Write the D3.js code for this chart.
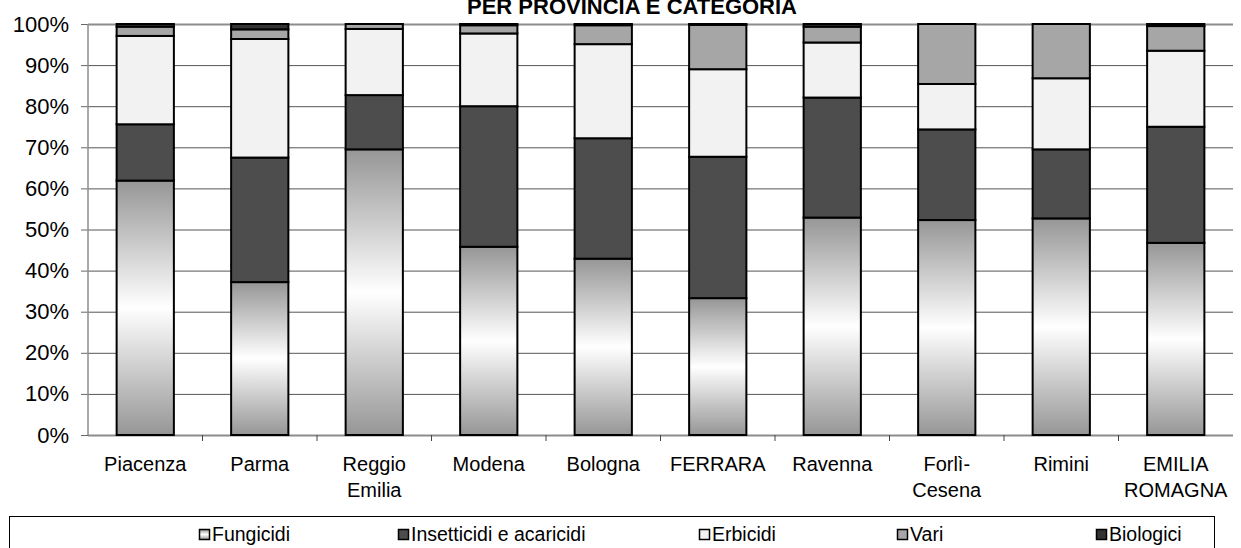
<!DOCTYPE html>
<html>
<head>
<meta charset="utf-8">
<script src="https://cdn.jsdelivr.net/npm/d3@7"></script>
<style>
  body { margin: 0; background: #fff; }
  svg { display: block; font-family: 'Liberation Sans', Arial, sans-serif; }
  .axis text { fill: #000; }
  .axis .domain { display: none; }
  .grid line { stroke: #555; stroke-width: 1; }
  .grid .domain { display: none; }
</style>
</head>
<body>
<div id="chart"></div>
<script>
// categories (line breaks as in the original axis)
const categories = ['Piacenza', 'Parma', 'Reggio\nEmilia', 'Modena', 'Bologna',
  'FERRARA', 'Ravenna', 'Forlì-\nCesena', 'Rimini', 'EMILIA\nROMAGNA']

// share of each category, % of total per province
const fungicidi = [61.9, 37.2, 69.5, 45.8, 42.9, 33.3, 52.9, 52.3, 52.7, 46.75]
const insetticidi = [13.7, 30.3, 13.2, 34.2, 29.3, 34.4, 29.2, 22.05, 16.8, 28.25]
const erbicidi = [21.5, 28.85, 16.1, 17.7, 22.9, 21.3, 13.4, 11.05, 17.3, 18.5]
const vari = [2.25, 2.35, 1.2, 2.0, 4.6, 10.8, 3.85, 14.6, 13.2, 6.0]
const biologici = [0.65, 1.3, 0, 0.3, 0.3, 0.2, 0.65, 0, 0, 0.5]

const seriesNames = ['Fungicidi', 'Insetticidi e acaricidi', 'Erbicidi', 'Vari', 'Biologici']
const yTicks = [0, 0.1, 0.2, 0.3, 0.4, 0.5, 0.6, 0.7, 0.8, 0.9, 1]

const title = 'PER PROVINCIA E CATEGORIA'

const fills = {
  'Fungicidi': 'url(#fungGrad)',
  'Insetticidi e acaricidi': '#4d4d4d',
  'Erbicidi': '#f2f2f2',
  'Vari': '#a6a6a6',
  'Biologici': '#333333'
}

const W = 1241
const H = 548
const margin = { top: 24, right: 8, bottom: 113, left: 88 }
const width = W - margin.left - margin.right
const height = H - margin.top - margin.bottom

const table = categories.map(function (c, i) {
  return {
    cat: c,
    'Fungicidi': fungicidi[i],
    'Insetticidi e acaricidi': insetticidi[i],
    'Erbicidi': erbicidi[i],
    'Vari': vari[i],
    'Biologici': biologici[i]
  }
})

const stacked = d3.stack()
  .keys(seriesNames)
  .offset(d3.stackOffsetExpand)(table)

const svgRoot = d3.select('#chart')
  .append('svg')
  .attr('width', W)
  .attr('height', H)

// vertical gray-white-gray fill used by Fungicidi
const grad = svgRoot.append('defs').append('linearGradient')
  .attr('id', 'fungGrad')
  .attr('x1', 0).attr('y1', 0).attr('x2', 0).attr('y2', 1)
grad.append('stop').attr('offset', '0%').attr('stop-color', '#969696')
grad.append('stop').attr('offset', '50%').attr('stop-color', '#ffffff')
grad.append('stop').attr('offset', '100%').attr('stop-color', '#969696')

// title (its top is cut off in the original)
svgRoot.append('text')
  .attr('x', 632)
  .attr('y', 14)
  .attr('text-anchor', 'middle')
  .style('font-size', '22px')
  .style('font-weight', 'bold')
  .text(title)

const svg = svgRoot.append('g')
  .attr('transform', 'translate(' + margin.left + ',' + margin.top + ')')

const x = d3.scaleBand()
  .domain(categories)
  .range([0, width])
  .paddingInner(0.5)
  .paddingOuter(0.25)

const y = d3.scaleLinear()
  .domain([0, 1])
  .range([height, 0])

// gridlines
svg.append('g')
  .attr('class', 'grid')
  .call(d3.axisLeft(y).tickValues(yTicks).tickSize(-width).tickFormat(''))
  .selectAll('line')
  .filter(function (d) { return d === 0 || d === 1 })
  .style('stroke', '#8c8c8c')
  .style('stroke-width', 2)

// y axis
const yAxis = svg.append('g')
  .attr('class', 'axis')
  .call(d3.axisLeft(y).tickValues(yTicks).tickSize(7).tickPadding(12)
    .tickFormat(d3.format('.0%')))
yAxis.selectAll('text').style('font-size', '22px')
yAxis.selectAll('line').style('stroke', '#666')
svg.append('line')
  .attr('x1', 0).attr('x2', 0)
  .attr('y1', 0).attr('y2', height)
  .style('stroke', '#8c8c8c')
  .style('stroke-width', 1.5)

// x axis labels
const xAxis = svg.append('g')
  .attr('class', 'axis')
  .attr('transform', 'translate(0,' + height + ')')
  .call(d3.axisBottom(x).tickSize(0).tickPadding(22))
xAxis.selectAll('text').style('font-size', '20px').each(function (d) {
  const t = d3.select(this)
  const lines = d.split('\n')
  t.text(null)
  lines.forEach(function (l, i) {
    t.append('tspan')
      .attr('x', 0)
      .attr('dy', i === 0 ? '0.71em' : '1.3em')
      .text(l)
  })
})

// tick marks between categories
svg.append('g')
  .selectAll('line')
  .data(categories.slice(1))
  .enter()
  .append('line')
  .attr('x1', function (d) { return x(d) - x.step() * 0.25 })
  .attr('x2', function (d) { return x(d) - x.step() * 0.25 })
  .attr('y1', height)
  .attr('y2', height + 6)
  .style('stroke', '#444')

// bars
svg.selectAll('g.layer')
  .data(stacked)
  .enter()
  .append('g')
  .attr('class', 'layer')
  .style('fill', function (d) { return fills[d.key] })
  .selectAll('rect')
  .data(function (d) { return d })
  .enter()
  .append('rect')
  .attr('x', function (d) { return x(d.data.cat) })
  .attr('y', function (d) { return y(d[1]) })
  .attr('width', x.bandwidth())
  .attr('height', function (d) { return Math.max(0, y(d[0]) - y(d[1])) })
  .style('stroke', '#000')
  .style('stroke-width', 2)

// legend
const legendX = [199, 398, 699, 897, 1096]
const legend = svgRoot.append('g')
legend.append('rect')
  .attr('x', 9.5)
  .attr('y', 516.5)
  .attr('width', 1205)
  .attr('height', 50)
  .style('fill', '#fff')
  .style('stroke', '#000')
const items = legend.selectAll('g.item')
  .data(seriesNames)
  .enter()
  .append('g')
  .attr('class', 'item')
  .attr('transform', function (d, i) { return 'translate(' + legendX[i] + ',0)' })
items.append('rect')
  .attr('x', 0.5)
  .attr('y', 529.5)
  .attr('width', 10)
  .attr('height', 10)
  .style('fill', function (d) { return fills[d] })
  .style('stroke', '#000')
  .style('stroke-width', 1.5)
items.append('text')
  .attr('x', 13)
  .attr('y', 541)
  .style('font-size', '19.5px')
  .text(function (d) { return d })
</script>
</body>
</html>
